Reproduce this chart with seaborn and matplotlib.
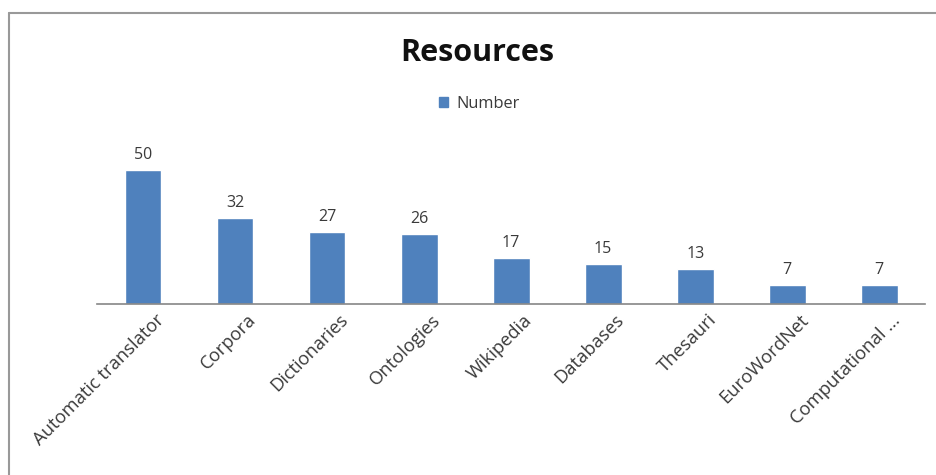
import matplotlib
matplotlib.use('Agg')
import matplotlib.pyplot as plt
import matplotlib.transforms as mtransforms
import seaborn as sns
from matplotlib.lines import Line2D
from matplotlib.patches import Patch

resources = ['Automatic translator', 'Corpora', 'Dictionaries', 'Ontologies', 'Wikipedia',
             'Databases', 'Thesauri', 'EuroWordNet', 'Computational ...']
numbers = [50, 32, 27, 26, 17, 15, 13, 7, 7]

sns.set_style('white')
plt.rcParams['font.family'] = ['Open Sans', 'DejaVu Sans']

bar_color = '#4F81BD'
text_color = '#3a3a3a'

fig = plt.figure(figsize=(9.37, 4.75), dpi=100)
ax = fig.add_axes([0.1035, 0.36, 0.884, 0.339])

sns.barplot(x=resources, y=numbers, color=bar_color, width=0.4, saturation=1, ax=ax)
ax.set_xlim(-0.5, len(resources) - 0.5)
ax.set_ylim(0, 60)

for i, v in enumerate(numbers):
    ax.annotate(str(v), (i, v), xytext=(0, 5), textcoords='offset points',
                ha='center', va='bottom', fontsize=11.5, color=text_color)

ax.set_yticks([])
ax.tick_params(axis='x', length=0, pad=5)
ax.set_xticks(range(len(resources)))
ax.set_xticklabels(resources, rotation=45, ha='right', rotation_mode='anchor',
                   fontsize=13.2, color=text_color)
shift = mtransforms.ScaledTranslation(12 / 100, 0, fig.dpi_scale_trans)
for lbl in ax.get_xticklabels():
    lbl.set_transform(lbl.get_transform() + shift)
for side in ['top', 'right', 'left']:
    ax.spines[side].set_visible(False)
ax.spines['bottom'].set_color('#868686')
ax.spines['bottom'].set_linewidth(1.2)

fig.text(0.509, 0.888, 'Resources', ha='center', va='center', fontsize=22,
         fontweight='bold', color='#111111')
fig.legend(handles=[Patch(color=bar_color, label='Number')], loc='center',
           bbox_to_anchor=(0.512, 0.782), frameon=False, fontsize=11.8,
           handlelength=0.55, handleheight=0.55, handletextpad=0.5,
           labelcolor=text_color)

# outer chart frame (top and left edges visible)
fig.add_artist(Line2D([9/937, 1], [1 - 13/475, 1 - 13/475], color='#999999', lw=1.5,
                      transform=fig.transFigure))
fig.add_artist(Line2D([9/937, 9/937], [0, 1 - 13/475], color='#999999', lw=1.5,
                      transform=fig.transFigure))

fig.savefig('out.png', dpi=100)
